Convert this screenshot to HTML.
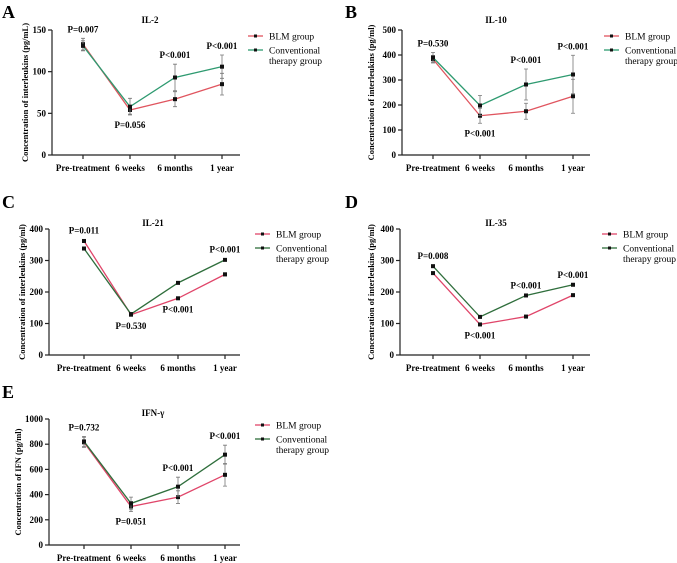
<!DOCTYPE html>
<html><head><meta charset="utf-8"><style>
body{margin:0;background:#fff;}
svg{display:block;font-family:"Liberation Serif",serif;}
</style></head><body>
<svg id="fig" width="677" height="563" viewBox="0 0 677 563"></svg>
<script>
const categories=["Pre-treatment","6 weeks","6 months","1 year"];
const aBLM=[133,54,67,85], aBLMerr=[7,5,9,13], aConv=[131,58,93,106], aConvErr=[6,10,16,14];
const aP=["P=0.007","P=0.056","P<0.001","P<0.001"];
const bBLM=[383,157,175,235], bBLMerr=[15,30,32,68], bConv=[390,198,282,322], bConvErr=[20,40,62,77];
const bP=["P=0.530","P<0.001","P<0.001","P<0.001"];
const cBLM=[362,128,180,256], cBLMerr=[5,4,4,5], cConv=[338,130,229,302], cConvErr=[5,3,3,4];
const cP=["P=0.011","P=0.530","P<0.001","P<0.001"];
const dBLM=[260,97,122,190], dBLMerr=[3,3,3,3], dConv=[282,121,189,223], dConvErr=[3,3,3,3];
const dP=["P=0.008","P<0.001","P<0.001","P<0.001"];
const eBLM=[815,305,380,557], eBLMerr=[40,40,50,90], eConv=[822,330,463,717], eConvErr=[40,50,75,75];
const eP=["P=0.732","P=0.051","P<0.001","P<0.001"];
const aTicks=[0,50,100,150], bTicks=[0,100,200,300,400,500], cTicks=[0,100,200,300,400], eTicks=[0,200,400,600,800,1000];

const NS="http://www.w3.org/2000/svg";
const svg=document.getElementById('fig');
function mk(tag,attrs,parent,text){const e=document.createElementNS(NS,tag);for(const k in attrs)e.setAttribute(k,attrs[k]);if(text!==undefined)e.textContent=text;(parent||svg).appendChild(e);return e;}

function panel(cfg){
  const g=mk('g',{});
  
  
  const y=v=>cfg.y0-(v/cfg.ymax)*(cfg.y0-cfg.y1);
  const x=i=>cfg.xs[i];
  const l=mk('text',{x:cfg.lx,y:cfg.ly,'font-size':18,'font-weight':'bold'},g,cfg.letter);
  
  const t=mk('text',{x:cfg.tx,y:cfg.ty,'font-size':9,'font-weight':'bold','text-anchor':'middle'},g,cfg.title);
  
  const ya=mk('line',{x1:cfg.ax,y1:cfg.y1,x2:cfg.ax,y2:cfg.y0,stroke:'#222','stroke-width':1.2},g);
  
  const xa=mk('line',{x1:cfg.ax,y1:cfg.y0,x2:cfg.axEnd,y2:cfg.y0,stroke:'#222','stroke-width':1.2},g);
  
  cfg.ticks.forEach(v=>{
    mk('line',{x1:cfg.ax-4,y1:y(v),x2:cfg.ax,y2:y(v),stroke:'#222','stroke-width':1.2},g);
    const tl=mk('text',{x:cfg.ax-6,y:y(v)+3,'font-size':9,'font-weight':'bold','text-anchor':'end'},g,v);
    
  });
  categories.forEach((c,i)=>{
    mk('line',{x1:x(i),y1:cfg.y0,x2:x(i),y2:cfg.y0+4,stroke:'#222','stroke-width':1.2},g);
    const cl=mk('text',{x:x(i),y:cfg.y0+16,'font-size':9,'font-weight':'bold','text-anchor':'middle'},g,c);
    
  });
  const yt=mk('text',{x:0,y:0,'font-size':8.5,'font-weight':'bold','text-anchor':'middle',transform:`translate(${cfg.ytx},${(cfg.y0+cfg.y1)/2}) rotate(-90)`},g,cfg.ytitle);
  
  const series=[[cfg.blm,cfg.blmErr,cfg.red,'blm'],[cfg.conv,cfg.convErr,cfg.green,'conventional']];
  series.forEach(([vals,err,col,nm])=>{
    const pl=mk('polyline',{points:vals.map((v,i)=>x(i)+','+y(v)).join(' '),fill:'none',stroke:col,'stroke-width':1.3},g);
    
    vals.forEach((v,i)=>{
      const eb=mk('path',{d:`M${x(i)},${y(v+err[i])}V${y(v-err[i])}M${x(i)-2},${y(v+err[i])}h4M${x(i)-2},${y(v-err[i])}h4`,stroke:'#777','stroke-width':0.8,fill:'none'},g);
      
      const p=mk('rect',{x:x(i)-2,y:y(v)-2,width:4,height:4,fill:'#111'},g);
      
    });
  });
  cfg.p.forEach((s,i)=>{
    const hi=Math.max(cfg.blm[i]+cfg.blmErr[i],cfg.conv[i]+cfg.convErr[i]);
    const lo=Math.min(cfg.blm[i]-cfg.blmErr[i],cfg.conv[i]-cfg.convErr[i]);
    const yy=cfg.below[i]?y(lo)+13:y(hi)-6;
    const pt=mk('text',{x:x(i),y:yy,'font-size':9,'font-weight':'bold','text-anchor':'middle'},g,s);
    
  });
  const lg=mk('g',{},g);
  [[cfg.red,'BLM group',0],[cfg.green,'Conventional',14]].forEach(([col,txt,dy])=>{
    const yy=cfg.legY+dy;
    mk('line',{x1:cfg.legX,y1:yy,x2:cfg.legX+15,y2:yy,stroke:col,'stroke-width':1.3},lg);
    mk('rect',{x:cfg.legX+6,y:yy-1.5,width:3,height:3,fill:'#111'},lg);
    const et=mk('text',{x:cfg.legX+21,y:yy+3.5,'font-size':9.5},lg,txt);
    
  });
  mk('text',{x:cfg.legX+21,y:cfg.legY+28,'font-size':9.5},lg,'therapy group');
}
const red1='#e0555f', green1='#2e9a70', red2='#e0466a', green2='#2f6e3c';
const xsL=[84,131,178,225], xsR=[433,480,526,573];
panel({letter:'A',lx:2,ly:18,title:'IL-2',tx:150,ty:23,ax:52,axEnd:240,y0:155,y1:30,ymax:150,ticks:aTicks,xs:[83,130,175,222],ytx:28,ytitle:'Concentration of interleukins (pg/mL)',blm:aBLM,blmErr:aBLMerr,conv:aConv,convErr:aConvErr,p:aP,below:[0,1,0,0],red:red1,green:green1,legX:248,legY:36});
panel({letter:'B',lx:345,ly:18,title:'IL-10',tx:496,ty:23,ax:402,axEnd:590,y0:155,y1:30,ymax:500,ticks:bTicks,xs:xsR,ytx:374,ytitle:'Concentration of interleukins (pg/ml)',blm:bBLM,blmErr:bBLMerr,conv:bConv,convErr:bConvErr,p:bP,below:[0,1,0,0],red:red1,green:green1,legX:604,legY:36});
panel({letter:'C',lx:2,ly:208,title:'IL-21',tx:153,ty:226,ax:49,axEnd:240,y0:355,y1:229,ymax:400,ticks:cTicks,xs:xsL,ytx:25,ytitle:'Concentration of interleukins (pg/ml)',blm:cBLM,blmErr:cBLMerr,conv:cConv,convErr:cConvErr,p:cP,below:[0,1,1,0],red:red2,green:green2,legX:255,legY:234});
panel({letter:'D',lx:345,ly:208,title:'IL-35',tx:496,ty:226,ax:400,axEnd:590,y0:355,y1:229,ymax:400,ticks:cTicks,xs:xsR,ytx:374,ytitle:'Concentration of interleukins (pg/ml)',blm:dBLM,blmErr:dBLMerr,conv:dConv,convErr:dConvErr,p:dP,below:[0,1,0,0],red:red2,green:green2,legX:602,legY:234});
panel({letter:'E',lx:2,ly:398,title:'IFN-γ',tx:153,ty:416,ax:49,axEnd:240,y0:545,y1:419,ymax:1000,ticks:eTicks,xs:xsL,ytx:21,ytitle:'Concentration of IFN (pg/ml)',blm:eBLM,blmErr:eBLMerr,conv:eConv,convErr:eConvErr,p:eP,below:[0,1,0,0],red:red2,green:green2,legX:255,legY:425});
</script>
</body></html>
